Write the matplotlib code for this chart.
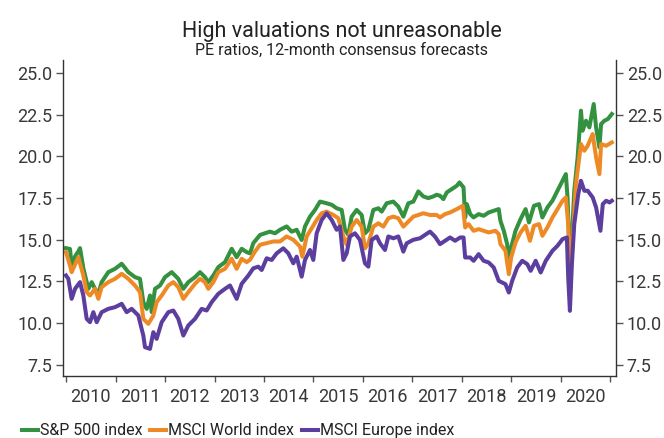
import matplotlib
matplotlib.use("Agg")
import matplotlib.pyplot as plt
from matplotlib.ticker import FixedLocator, NullFormatter, FixedFormatter, FormatStrFormatter

plt.rcParams['font.family'] = ['Roboto', 'DejaVu Sans']

# decimal years / forward PE
sp_years = [2010.000, 2010.081, 2010.114, 2010.182, 2010.249, 2010.283, 2010.350, 2010.418, 2010.451, 2010.519,
            2010.586, 2010.653, 2010.720, 2010.855, 2010.990, 2011.125, 2011.259, 2011.394, 2011.495, 2011.562,
            2011.630, 2011.697, 2011.731, 2011.798, 2011.899, 2012.000, 2012.135, 2012.202, 2012.269, 2012.370,
            2012.471, 2012.606, 2012.707, 2012.808, 2012.875, 2012.976, 2013.077, 2013.212, 2013.347, 2013.448,
            2013.549, 2013.650, 2013.717, 2013.784, 2013.919, 2014.020, 2014.121, 2014.222, 2014.323, 2014.458,
            2014.559, 2014.660, 2014.761, 2014.828, 2014.929, 2015.030, 2015.131, 2015.266, 2015.367, 2015.468,
            2015.569, 2015.636, 2015.704, 2015.771, 2015.872, 2015.973, 2016.040, 2016.108, 2016.209, 2016.310,
            2016.377, 2016.478, 2016.613, 2016.714, 2016.815, 2016.916, 2017.017, 2017.118, 2017.219, 2017.320,
            2017.421, 2017.488, 2017.556, 2017.624, 2017.692, 2017.793, 2017.895, 2017.949, 2018.031, 2018.064,
            2018.098, 2018.166, 2018.234, 2018.336, 2018.437, 2018.539, 2018.641, 2018.742, 2018.776, 2018.844,
            2018.912, 2018.946, 2018.993, 2019.081, 2019.183, 2019.285, 2019.353, 2019.454, 2019.556, 2019.624,
            2019.725, 2019.827, 2019.929, 2020.031, 2020.098, 2020.132, 2020.166, 2020.200, 2020.234, 2020.268,
            2020.336, 2020.403, 2020.437, 2020.505, 2020.573, 2020.661, 2020.709, 2020.776, 2020.810, 2020.878,
            2020.946, 2021.027]
sp_pe = [14.5, 14.45, 13.4, 14.0, 14.3, 14.5, 13.3, 12.46, 12.06, 12.46,
         12.06, 11.76, 12.46, 13.06, 13.26, 13.56, 13.06, 12.76, 12.66, 11.26,
         10.86, 11.66, 10.66, 12.06, 12.26, 12.76, 13.06, 12.86, 12.66, 12.06,
         12.46, 12.76, 13.06, 12.76, 12.46, 12.86, 13.36, 13.66, 14.46, 13.96,
         14.46, 14.26, 14.19, 14.8, 15.29, 15.39, 15.49, 15.39, 15.6, 15.8,
         15.49, 15.6, 14.99, 15.8, 16.39, 16.79, 17.29, 17.19, 17.1, 16.89,
         16.79, 15.6, 15.29, 16.39, 16.79, 16.49, 15.39, 15.6, 16.79, 16.89,
         16.69, 17.19, 17.29, 16.99, 16.39, 17.19, 17.29, 17.9, 17.6, 17.5,
         17.6, 17.7, 17.64, 17.44, 17.84, 18.04, 18.24, 18.44, 18.14, 16.34,
         17.14, 16.54, 16.34, 16.54, 16.44, 16.64, 16.74, 16.84, 16.14, 15.54,
         14.74, 13.54, 14.54, 15.54, 16.24, 16.84, 16.04, 17.04, 17.14, 16.34,
         16.94, 17.34, 17.94, 18.54, 18.94, 17.54, 14.74, 13.54, 15.94, 17.94,
         19.94, 22.74, 21.54, 22.14, 21.74, 23.14, 21.74, 20.54, 21.94, 22.14,
         22.24, 22.54]

world_years = [2010.000, 2010.081, 2010.114, 2010.249, 2010.350, 2010.418, 2010.485, 2010.586, 2010.653, 2010.720,
               2010.855, 2010.990, 2011.125, 2011.259, 2011.394, 2011.495, 2011.562, 2011.663, 2011.764, 2011.831,
               2011.933, 2012.067, 2012.168, 2012.269, 2012.370, 2012.471, 2012.606, 2012.707, 2012.808, 2012.875,
               2012.976, 2013.077, 2013.212, 2013.347, 2013.448, 2013.549, 2013.650, 2013.717, 2013.818, 2013.919,
               2014.054, 2014.189, 2014.323, 2014.458, 2014.592, 2014.727, 2014.774, 2014.862, 2014.963, 2015.064,
               2015.165, 2015.266, 2015.401, 2015.502, 2015.603, 2015.670, 2015.771, 2015.872, 2015.973, 2016.040,
               2016.108, 2016.209, 2016.310, 2016.411, 2016.512, 2016.613, 2016.714, 2016.815, 2016.916, 2017.017,
               2017.118, 2017.219, 2017.354, 2017.488, 2017.556, 2017.658, 2017.759, 2017.895, 2018.017, 2018.064,
               2018.132, 2018.234, 2018.336, 2018.437, 2018.539, 2018.675, 2018.742, 2018.776, 2018.878, 2018.946,
               2018.993, 2019.081, 2019.183, 2019.285, 2019.373, 2019.454, 2019.556, 2019.624, 2019.725, 2019.827,
               2019.929, 2020.031, 2020.098, 2020.146, 2020.187, 2020.234, 2020.302, 2020.403, 2020.471, 2020.539,
               2020.640, 2020.709, 2020.776, 2020.810, 2020.912, 2021.027]
world_pe = [14.26, 13.46, 13.06, 13.96, 12.86, 11.86, 11.66, 12.06, 11.46, 12.16,
            12.46, 12.66, 12.96, 12.66, 12.26, 11.86, 10.26, 9.96, 10.46, 11.26,
            11.66, 12.26, 12.46, 12.16, 11.46, 11.86, 12.36, 12.66, 12.46, 12.06,
            12.46, 13.06, 13.26, 13.86, 13.26, 13.86, 13.66, 13.8, 14.3, 14.7,
            14.8, 14.9, 14.9, 15.2, 15.0, 14.6, 13.99, 15.2, 15.69, 16.19,
            16.59, 16.69, 16.49, 16.29, 15.2, 14.7, 15.79, 16.19, 15.79, 14.49,
            14.79, 15.79, 15.99, 15.79, 16.29, 16.39, 16.29, 15.79, 16.09, 16.39,
            16.49, 16.59, 16.49, 16.49, 16.34, 16.54, 16.64, 16.84, 17.04, 15.74,
            15.94, 15.54, 15.64, 15.54, 15.44, 15.54, 15.34, 14.74, 14.34, 12.94,
            13.94, 14.84, 15.44, 15.84, 14.94, 15.84, 15.94, 15.24, 15.74, 16.34,
            16.84, 17.34, 17.54, 15.94, 12.54, 14.94, 18.34, 20.74, 20.34, 20.64,
            21.34, 19.94, 18.94, 20.74, 20.64, 20.84]

europe_years = [2010.000, 2010.047, 2010.114, 2010.182, 2010.283, 2010.350, 2010.418, 2010.485, 2010.552, 2010.620,
                2010.720, 2010.855, 2010.990, 2011.125, 2011.226, 2011.327, 2011.461, 2011.562, 2011.596, 2011.697,
                2011.764, 2011.831, 2011.933, 2012.067, 2012.168, 2012.269, 2012.370, 2012.471, 2012.606, 2012.741,
                2012.842, 2012.943, 2013.077, 2013.212, 2013.313, 2013.448, 2013.549, 2013.684, 2013.784, 2013.885,
                2013.953, 2014.054, 2014.155, 2014.256, 2014.390, 2014.491, 2014.592, 2014.660, 2014.761, 2014.828,
                2014.929, 2014.996, 2015.064, 2015.165, 2015.266, 2015.367, 2015.468, 2015.535, 2015.603, 2015.670,
                2015.737, 2015.838, 2015.939, 2016.040, 2016.108, 2016.175, 2016.276, 2016.343, 2016.444, 2016.512,
                2016.613, 2016.714, 2016.815, 2016.882, 2017.017, 2017.151, 2017.252, 2017.354, 2017.455, 2017.556,
                2017.658, 2017.759, 2017.861, 2017.963, 2018.031, 2018.064, 2018.166, 2018.234, 2018.336, 2018.437,
                2018.539, 2018.641, 2018.742, 2018.878, 2018.946, 2019.014, 2019.115, 2019.217, 2019.319, 2019.387,
                2019.488, 2019.590, 2019.692, 2019.827, 2019.929, 2020.031, 2020.119, 2020.146, 2020.180, 2020.220,
                2020.268, 2020.349, 2020.403, 2020.471, 2020.539, 2020.640, 2020.709, 2020.797, 2020.844, 2020.912,
                2020.980, 2021.027]
europe_pe = [12.86, 12.66, 11.46, 12.06, 12.46, 11.66, 10.26, 10.06, 10.66, 10.06,
             10.66, 10.86, 10.96, 11.16, 10.66, 10.86, 10.46, 9.26, 8.56, 8.46,
             9.46, 9.06, 10.06, 10.66, 10.76, 10.26, 9.26, 9.86, 10.26, 10.86,
             10.76, 11.26, 11.76, 12.06, 12.26, 11.46, 12.36, 12.86, 13.29, 13.39,
             13.19, 13.89, 13.79, 14.19, 14.49, 14.19, 13.59, 13.99, 12.79, 13.79,
             14.39, 13.79, 15.39, 16.19, 16.59, 16.19, 15.6, 15.8, 13.79, 14.19,
             15.2, 15.39, 14.99, 13.59, 13.39, 14.99, 15.2, 14.79, 14.39, 15.2,
             15.09, 15.2, 14.29, 14.79, 15.0, 15.09, 15.29, 15.49, 15.19, 14.74,
             14.94, 15.14, 14.94, 15.14, 15.14, 13.94, 13.94, 13.74, 14.14, 13.74,
             13.64, 13.34, 12.54, 12.34, 11.84, 12.54, 13.34, 13.74, 13.54, 13.14,
             13.74, 13.04, 13.74, 14.34, 14.64, 15.04, 15.14, 12.74, 10.74, 13.54,
             15.94, 17.74, 18.54, 17.94, 17.94, 17.54, 16.94, 15.54, 17.14, 17.34,
             17.24, 17.34]

years = list(range(2010, 2022))
year_labels = [str(y) for y in range(2010, 2021)]
yticks = [7.5, 10.0, 12.5, 15.0, 17.5, 20.0, 22.5, 25.0]

fig = plt.figure(figsize=(6.64, 4.38), dpi=100)
ax = fig.add_axes([0.0953, 0.1422, 0.8318, 0.7208])

ax.plot(sp_years, sp_pe, color='#33913f', lw=2.9, label='S&P 500 index')
ax.plot(world_years, world_pe, color='#ee8a26', lw=2.9, label='MSCI World index')
ax.plot(europe_years, europe_pe, color='#5c3e9e', lw=2.9, label='MSCI Europe index')

ax.set_xlim(2009.945, 2021.103)
ax.set_ylim(6.85, 25.78)

# year ticks at year starts, labels in the middle of each year
ax.xaxis.set_major_locator(FixedLocator(years))
ax.xaxis.set_major_formatter(NullFormatter())
ax.xaxis.set_minor_locator(FixedLocator([y + 0.5 for y in range(2010, 2021)]))
ax.xaxis.set_minor_formatter(FixedFormatter(year_labels))
ax.tick_params(axis='x', which='major', length=4, width=1, color='#555555')
ax.tick_params(axis='x', which='minor', length=0, pad=9, labelsize=13, labelcolor='#383838')

ax.set_yticks(yticks)
ax.yaxis.set_major_formatter(FormatStrFormatter('%.1f'))
ax.tick_params(axis='y', which='both', left=True, right=True, labelleft=True, labelright=True,
               length=5, width=1, color='#555555', pad=3, labelsize=13, labelcolor='#383838')

for s in ['left', 'right', 'bottom']:
    ax.spines[s].set_color('#333333')
    ax.spines[s].set_linewidth(1.0)
ax.spines['top'].set_visible(False)

fig.text(0.515, 0.9155, 'High valuations not unreasonable', ha='center', va='baseline',
         fontsize=15.5, color='#222222')
fig.text(0.515, 0.874, 'PE ratios, 12-month consensus forecasts', ha='center', va='baseline',
         fontsize=11.5, color='#222222')

fig.legend(loc='center left', bbox_to_anchor=(0.033, 0.016), ncol=3, frameon=False,
           fontsize=11.5, handlelength=1.0, handletextpad=0.15, columnspacing=0.45,
           borderaxespad=0, borderpad=0, labelcolor='#222222')

fig.savefig('out.png', dpi=100)
